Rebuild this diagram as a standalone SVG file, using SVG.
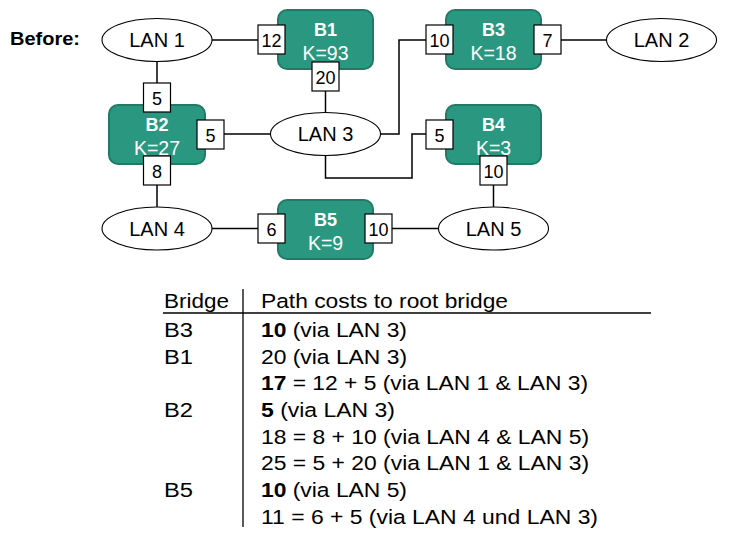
<svg xmlns="http://www.w3.org/2000/svg" width="733" height="545" viewBox="0 0 733 545">
<style>
text{font-family:"Liberation Sans",Arial,Helvetica,sans-serif;fill:#000}
.br{fill:#2A9880;stroke:#217A66;stroke-width:2}
.bt{fill:#fff;font-size:18px;font-weight:bold;text-anchor:middle}
.bk{fill:#fff;font-size:19.5px;text-anchor:middle}
.pt rect{fill:#fff;stroke:#000;stroke-width:1.2}
.pt text{font-size:18px;text-anchor:middle}
.lan ellipse{fill:#fff;stroke:#000;stroke-width:1.1}
.lan text{font-size:20px;text-anchor:middle}
.cn{fill:none;stroke:#000;stroke-width:1.5}
.tb{font-size:20.5px}
</style>
<rect width="733" height="545" fill="#fff"/>
<text x="10" y="44.5" font-size="18" font-weight="bold" textLength="70" lengthAdjust="spacingAndGlyphs">Before:</text>

<g id="connectors" class="cn">
<line x1="212" y1="40" x2="258" y2="40"/>
<line x1="157" y1="61.5" x2="157" y2="83"/>
<line x1="325.5" y1="91" x2="325.5" y2="112.5"/>
<line x1="224" y1="134" x2="270.5" y2="134"/>
<line x1="157" y1="185" x2="157" y2="207"/>
<line x1="212" y1="228.5" x2="258" y2="228.5"/>
<line x1="392" y1="228.5" x2="438.5" y2="228.5"/>
<line x1="493.5" y1="185" x2="493.5" y2="207"/>
<line x1="561" y1="40" x2="606.5" y2="40"/>
<polyline points="380.5,134 399,134 399,40 426,40"/>
<polyline points="325.5,155.5 325.5,178 412,178 412,134 426,134"/>
</g>

<g id="LAN1" class="lan"><ellipse cx="157" cy="40" rx="55" ry="21.5"/><text x="157" y="47">LAN 1</text></g>
<g id="LAN2" class="lan"><ellipse cx="661.5" cy="40" rx="55" ry="21.5"/><text x="661.5" y="47">LAN 2</text></g>
<g id="LAN3" class="lan"><ellipse cx="325.5" cy="134" rx="55" ry="21.5"/><text x="325.5" y="141">LAN 3</text></g>
<g id="LAN4" class="lan"><ellipse cx="157" cy="228.5" rx="55" ry="21.5"/><text x="157" y="235.5">LAN 4</text></g>
<g id="LAN5" class="lan"><ellipse cx="493.5" cy="228.5" rx="55" ry="21.5"/><text x="493.5" y="235.5">LAN 5</text></g>

<g id="B1"><rect class="br" x="278" y="10" width="95" height="59" rx="9"/><text class="bt" x="325.5" y="35.5">B1</text><text class="bk" x="325.5" y="60">K=93</text>
<g class="pt"><rect x="258" y="25" width="27" height="29"/><text x="271.5" y="46.5">12</text></g>
<g class="pt"><rect x="312" y="62" width="27" height="29"/><text x="325.5" y="83.5">20</text></g></g>

<g id="B3"><rect class="br" x="446" y="10" width="95" height="59" rx="9"/><text class="bt" x="493.5" y="35.5">B3</text><text class="bk" x="493.5" y="60">K=18</text>
<g class="pt"><rect x="426" y="25" width="27" height="29"/><text x="439.5" y="46.5">10</text></g>
<g class="pt"><rect x="534" y="25" width="27" height="29"/><text x="547.5" y="46.5">7</text></g></g>

<g id="B2"><rect class="br" x="109" y="105" width="96" height="59" rx="9"/><text class="bt" x="157" y="130.5">B2</text><text class="bk" x="157" y="155">K=27</text>
<g class="pt"><rect x="143.5" y="83" width="27" height="29"/><text x="157" y="104.5">5</text></g>
<g class="pt"><rect x="197" y="120" width="27" height="29"/><text x="210.5" y="141.5">5</text></g>
<g class="pt"><rect x="143.5" y="156" width="27" height="29"/><text x="157" y="177.5">8</text></g></g>

<g id="B4"><rect class="br" x="446" y="105" width="95" height="59" rx="9"/><text class="bt" x="493.5" y="130.5">B4</text><text class="bk" x="493.5" y="155">K=3</text>
<g class="pt"><rect x="426" y="120" width="27" height="29"/><text x="439.5" y="141.5">5</text></g>
<g class="pt"><rect x="480" y="156" width="27" height="29"/><text x="493.5" y="177.5">10</text></g></g>

<g id="B5"><rect class="br" x="278" y="200" width="95" height="59" rx="9"/><text class="bt" x="325.5" y="225.5">B5</text><text class="bk" x="325.5" y="250">K=9</text>
<g class="pt"><rect x="258" y="214" width="27" height="29"/><text x="271.5" y="235.5">6</text></g>
<g class="pt"><rect x="365" y="214" width="27" height="29"/><text x="378.5" y="235.5">10</text></g></g>

<g id="table" class="tb">
<line x1="163" y1="313" x2="651" y2="313" stroke="#000" stroke-width="1.3"/>
<line x1="243" y1="289" x2="243" y2="527" stroke="#000" stroke-width="1.3"/>
<text x="164" y="307.5" textLength="65" lengthAdjust="spacingAndGlyphs">Bridge</text>
<text x="261" y="307.5" textLength="247" lengthAdjust="spacingAndGlyphs">Path costs to root bridge</text>
<text x="164" y="337" textLength="29" lengthAdjust="spacingAndGlyphs">B3</text>
<text x="164" y="363.7" textLength="29" lengthAdjust="spacingAndGlyphs">B1</text>
<text x="164" y="417" textLength="29" lengthAdjust="spacingAndGlyphs">B2</text>
<text x="164" y="497" textLength="29" lengthAdjust="spacingAndGlyphs">B5</text>
<text x="261" y="337" textLength="146" lengthAdjust="spacingAndGlyphs"><tspan font-weight="bold">10</tspan> (via LAN 3)</text>
<text x="261" y="363.7" textLength="146" lengthAdjust="spacingAndGlyphs">20 (via LAN 3)</text>
<text x="261" y="390.3" textLength="327" lengthAdjust="spacingAndGlyphs"><tspan font-weight="bold">17</tspan> = 12 + 5 (via LAN 1 &amp; LAN 3)</text>
<text x="261" y="417" textLength="134" lengthAdjust="spacingAndGlyphs"><tspan font-weight="bold">5</tspan> (via LAN 3)</text>
<text x="261" y="443.7" textLength="328" lengthAdjust="spacingAndGlyphs">18 = 8 + 10 (via LAN 4 &amp; LAN 5)</text>
<text x="261" y="470.3" textLength="328" lengthAdjust="spacingAndGlyphs">25 = 5 + 20 (via LAN 1 &amp; LAN 3)</text>
<text x="261" y="497" textLength="146" lengthAdjust="spacingAndGlyphs"><tspan font-weight="bold">10</tspan> (via LAN 5)</text>
<text x="261" y="523.7" textLength="337" lengthAdjust="spacingAndGlyphs">11 = 6 + 5 (via LAN 4 und LAN 3)</text>
</g>
</svg>
